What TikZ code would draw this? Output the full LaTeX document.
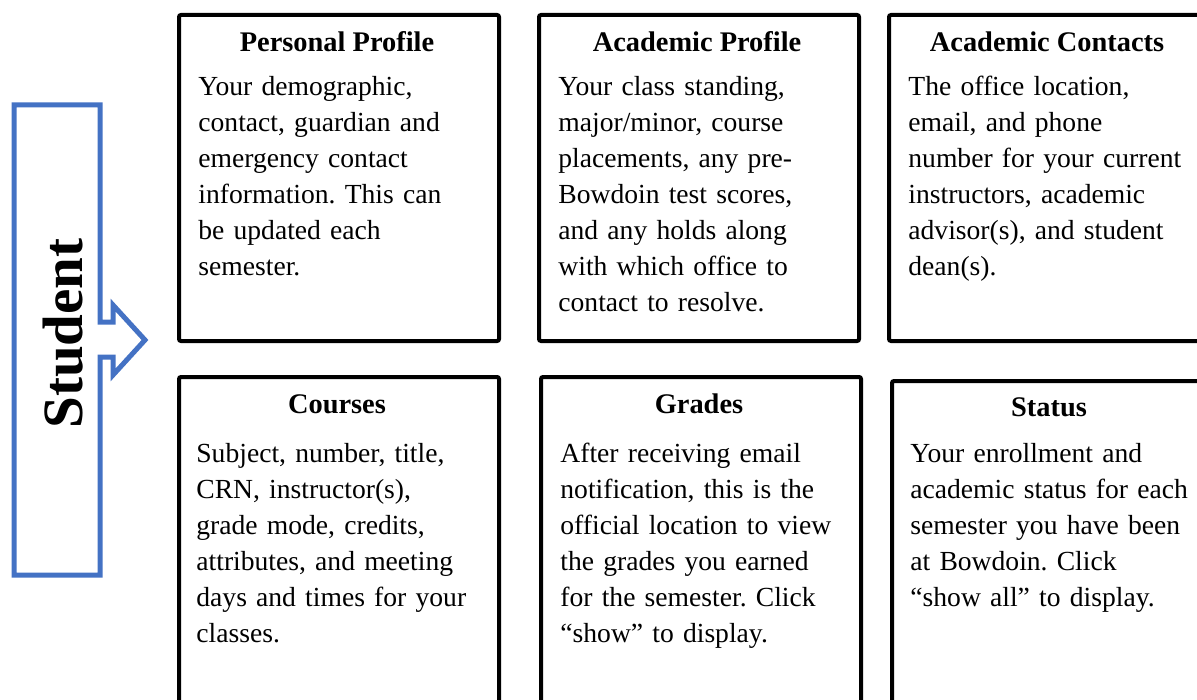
\documentclass[tikz,border=0pt]{standalone}
\usepackage{fontspec}
\setmainfont{Liberation Serif}
\usetikzlibrary{positioning}
\definecolor{arrow-blue}{HTML}{4472C4}
\frenchspacing

\begin{document}
\begin{tikzpicture}[x=0.5pt, y=-0.5pt,
          infobox/.style={draw, line width=2pt, rounded corners=1pt,
              minimum width=160pt, minimum height=163pt,
              anchor=north west, inner sep=0pt},
          boxtitle/.style={font=\fontsize{14.2}{18}\selectfont\bfseries,
              inner sep=0pt, anchor=base},
          boxbody/.style={font=\fontsize{13.8}{18}\selectfont,
              text width=155pt, align=left, inner sep=0pt,
              anchor=base west}]
        % Canvas in pixels (y downward): 1197 x 700, boxes run off the edges
        \useasboundingbox (0,0) rectangle (1197,700);
        \clip (0,0) rectangle (1197,700);
        % Student callout arrow
        \draw[arrow-blue, line width=2.5pt, line join=miter]
              (14,105) -- (100,105) -- (100,322) -- (113,322) -- (113,305)
              -- (145,340) -- (113,375) -- (113,357) -- (100,357)
              -- (100,575) -- (14,575) -- cycle;
        \node[font=\fontsize{28.5}{30}\selectfont\bfseries, rotate=90,
              anchor=base, inner sep=0pt] (STU) at (82,333.5) {Student};
        % Top row
        \node[infobox] (PP) at (177,13) {};
        \node[infobox] (AP) at (537,13) {};
        \node[infobox] (AC) at (887,13) {};
        \node[boxtitle] (PPt) at (337,52) {Personal Profile};
        \node[boxtitle] (APt) at (697,52) {Academic Profile};
        \node[boxtitle] (ACt) at (1047,52) {Academic Contacts};
        \node[boxbody] (PPb) at (198,95.5) {Your demographic,\\
              contact, guardian and\\ emergency contact\\
              information. This can\\ be updated each\\ semester.};
        \node[boxbody] (APb) at (558,95.5) {Your class standing,\\
              major/minor, course\\ placements, any pre-\\
              Bowdoin test scores,\\ and any holds along\\
              with which office to\\ contact to resolve.};
        \node[boxbody] (ACb) at (908,95.5) {The office location,\\
              email, and phone\\ number for your current\\
              instructors, academic\\ advisor(s), and student\\ dean(s).};
        % Bottom row
        \node[infobox] (CO) at (177,375) {};
        \node[infobox] (GR) at (539,375) {};
        \node[infobox] (ST) at (890,379) {};
        \node[boxtitle] (COt) at (337,413) {Courses};
        \node[boxtitle] (GRt) at (699,413) {Grades};
        \node[boxtitle] (STt) at (1049,416) {Status};
        \node[boxbody] (COb) at (196,462) {Subject, number, title,\\
              CRN, instructor(s),\\ grade mode, credits,\\
              attributes, and meeting\\ days and times for your\\ classes.};
        \node[boxbody] (GRb) at (560,462) {After receiving email\\
              notification, this is the\\ official location to view\\
              the grades you earned\\ for the semester. Click\\
              “show” to display.};
        \node[boxbody] (STb) at (910,462) {Your enrollment and\\
              academic status for each\\ semester you have been\\
              at Bowdoin. Click\\ “show all” to display.};
      \end{tikzpicture}
\end{document}
